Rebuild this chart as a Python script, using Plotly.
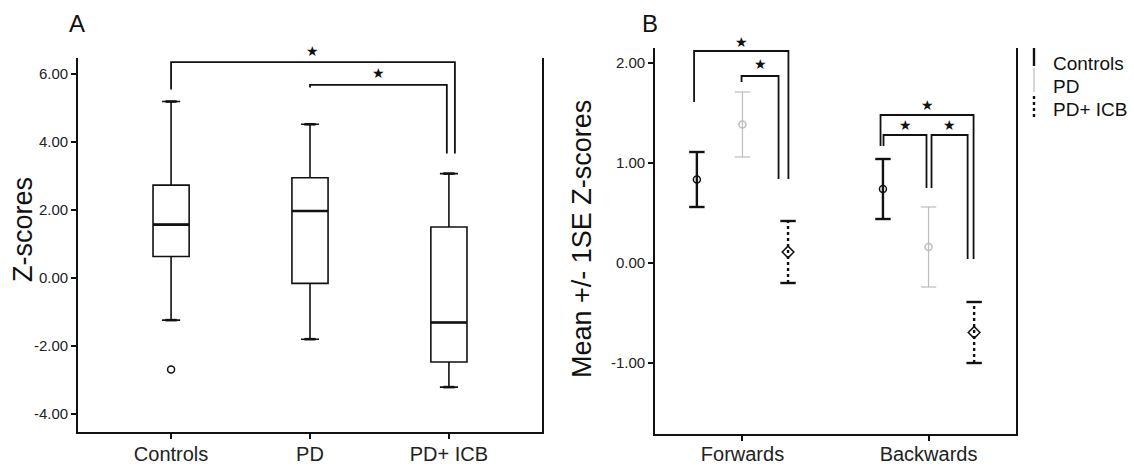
import plotly.graph_objects as go

# ---------------- Panel A: box plot of Z-scores ----------------
groups = ["Controls", "PD", "PD+ ICB"]
box_upper = [5.19, 4.52, 3.07]
box_q3 = [2.73, 2.95, 1.50]
box_median = [1.57, 1.97, -1.31]
box_q1 = [0.63, -0.16, -2.47]
box_lower = [-1.24, -1.80, -3.21]
outlier_group = [0]
outlier_value = [-2.69]
yticks_a = [-4, -2, 0, 2, 4, 6]

# significance brackets: (x_left, x_right, y_top, y_left_end, y_right_end)
brackets_a = [
    (0.0, 2.043, 6.35, 5.54, 3.66),
    (1.0, 1.985, 5.68, 5.60, 3.66),
]

# ---------------- Panel B: mean +/- 1 SE ----------------
tasks = ["Forwards", "Backwards"]
series = ["Controls", "PD", "PD+ ICB"]
means = {
    "Controls": [0.835, 0.74],
    "PD": [1.385, 0.16],
    "PD+ ICB": [0.11, -0.695],
}
ses = {
    "Controls": [0.275, 0.30],
    "PD": [0.325, 0.40],
    "PD+ ICB": [0.31, 0.305],
}
yticks_b = [-1, 0, 1, 2]

brackets_b = [
    (-0.26, 0.247, 2.12, 1.61, 0.84),
    (-0.005, 0.194, 1.87, 1.81, 0.84),
    (0.742, 1.242, 1.48, 1.17, 0.04),
    (0.758, 0.989, 1.28, 1.17, 0.75),
    (1.016, 1.210, 1.28, 0.75, 0.04),
]

FONT = "Liberation Sans, Arial, sans-serif"
W, H = 1134, 467
dodge = {"Controls": -0.245, "PD": 0.0, "PD+ ICB": 0.245}
style = {
    "Controls": dict(color="#111111", width=2.4, dash="solid", symbol="circle-open", size=7),
    "PD": dict(color="#bdbdbd", width=1.2, dash="solid", symbol="circle-open", size=7),
    "PD+ ICB": dict(color="#111111", width=2.4, dash="dot", symbol="diamond-open", size=9),
}

fig = go.Figure()

# boxes from precomputed statistics
box_w = 0.26
fig.add_trace(go.Box(
    x=list(range(len(groups))), q1=box_q1, median=box_median, q3=box_q3,
    lowerfence=box_lower, upperfence=box_upper, width=box_w,
    fillcolor="white", line=dict(color="#111111", width=1.6),
    boxpoints=False, xaxis="x", yaxis="y", hoverinfo="skip",
))
# thicker median lines
mx, my = [], []
for i, m in enumerate(box_median):
    mx += [i - box_w / 2, i + box_w / 2, None]
    my += [m, m, None]
fig.add_trace(go.Scatter(x=mx, y=my, mode="lines", line=dict(color="#111111", width=2.6),
                         xaxis="x", yaxis="y", hoverinfo="skip"))
# whisker caps
fig.add_trace(go.Scatter(
    x=list(range(len(groups))) * 2, y=box_upper + box_lower, mode="markers",
    marker=dict(symbol="line-ew", size=8, line=dict(color="#111111", width=2.6)),
    xaxis="x", yaxis="y", hoverinfo="skip"))
# outlier
fig.add_trace(go.Scatter(
    x=outlier_group, y=outlier_value, mode="markers",
    marker=dict(symbol="circle-open", size=7, color="#111111", line=dict(width=1.5)),
    xaxis="x", yaxis="y", hoverinfo="skip"))


def add_brackets(brs, xa, ya, shifts):
    for (xl, xr, yt, yl, yr), sh in zip(brs, shifts):
        fig.add_trace(go.Scatter(
            x=[xl, xl, xr, xr], y=[yl, yt, yt, yr], mode="lines",
            line=dict(color="#111111", width=1.8), xaxis=xa, yaxis=ya,
            cliponaxis=False, hoverinfo="skip"))
        fig.add_annotation(x=(xl + xr) / 2, y=yt, xref=xa, yref=ya, text="★",
                           showarrow=False, yshift=sh, xanchor="center", yanchor="middle",
                           font=dict(family="DejaVu Sans", size=14, color="#111111"))


add_brackets(brackets_a, "x", "y", [11, 12])

# panel B error bars
for s in series:
    st = style[s]
    xs = [i + dodge[s] for i in range(len(tasks))]
    lo = [m - e for m, e in zip(means[s], ses[s])]
    hi = [m + e for m, e in zip(means[s], ses[s])]
    vx, vy = [], []
    for x, a, b in zip(xs, lo, hi):
        vx += [x, x, None]
        vy += [a, b, None]
    fig.add_trace(go.Scatter(x=vx, y=vy, mode="lines",
                             line=dict(color=st["color"], width=st["width"], dash=st["dash"]),
                             xaxis="x2", yaxis="y2", hoverinfo="skip"))
    fig.add_trace(go.Scatter(x=xs * 2, y=lo + hi, mode="markers",
                             marker=dict(symbol="line-ew", size=11,
                                         line=dict(color=st["color"], width=st["width"])),
                             xaxis="x2", yaxis="y2", hoverinfo="skip"))
    fig.add_trace(go.Scatter(x=xs, y=means[s], mode="markers",
                             marker=dict(symbol=st["symbol"], size=st["size"], color=st["color"],
                                         line=dict(width=1.5, color=st["color"])),
                             xaxis="x2", yaxis="y2", hoverinfo="skip"))

add_brackets(brackets_b, "x2", "y2", [9, 12, 10, 10, 10])

axis_common = dict(showgrid=False, zeroline=False, showline=True, linecolor="#111111",
                   linewidth=1.8, ticks="outside", ticklen=5, tickwidth=1.5,
                   tickcolor="#111111", automargin=False)


def px_x(p):
    return p / W


def px_y(p):
    return 1 - p / H


fig.update_layout(
    width=W, height=H, margin=dict(l=0, r=0, t=0, b=0),
    paper_bgcolor="white", plot_bgcolor="white", showlegend=False,
    font=dict(family=FONT, color="#222222"),
    xaxis=dict(axis_common, domain=[px_x(78), px_x(542)], range=[-0.67, 2.67],
               tickvals=list(range(len(groups))), ticktext=groups,
               tickfont=dict(size=20), anchor="y", ticklabelstandoff=-2),
    yaxis=dict(axis_common, domain=[px_y(432), px_y(58)], range=[-4.53, 6.47],
               tickvals=yticks_a, ticktext=[f"{v:.2f}" for v in yticks_a],
               tickfont=dict(size=15), mirror=True, anchor="x"),
    xaxis2=dict(axis_common, domain=[px_x(655), px_x(1016)], range=[-0.47, 1.47],
                tickvals=list(range(len(tasks))), ticktext=tasks,
                tickfont=dict(size=20), anchor="y2", ticklabelstandoff=-4),
    yaxis2=dict(axis_common, domain=[px_y(434), px_y(48)], range=[-1.71, 2.15],
                tickvals=yticks_b, ticktext=[f"{v:.2f}" for v in yticks_b],
                tickfont=dict(size=15), mirror=True, anchor="x2"),
)


def label(x, y, text, size, angle=0, xanchor="center"):
    fig.add_annotation(x=px_x(x), y=px_y(y), xref="paper", yref="paper", text=text,
                       textangle=angle, showarrow=False, xanchor=xanchor, yanchor="middle",
                       font=dict(size=size, color="#111111"))


# panel letters and axis titles
label(77, 24, "A", 24)
label(650, 24, "B", 24)
label(23, 230, "Z-scores", 27, angle=-90)
label(582, 239, "Mean +/- 1SE Z-scores", 27, angle=-90)

# legend for panel B
leg_y = [[48, 66], [68, 92], [96, 120]]
leg_text_y = [63, 86, 109]
for s, (y0, y1), ty in zip(series, leg_y, leg_text_y):
    st = style[s]
    fig.add_shape(type="line", xref="paper", yref="paper", x0=px_x(1034), x1=px_x(1034),
                  y0=px_y(y0), y1=px_y(y1),
                  line=dict(color=st["color"], width=st["width"], dash=st["dash"]))
    label(1051, ty, s, 19, xanchor="left")

fig.write_html("out.html")
